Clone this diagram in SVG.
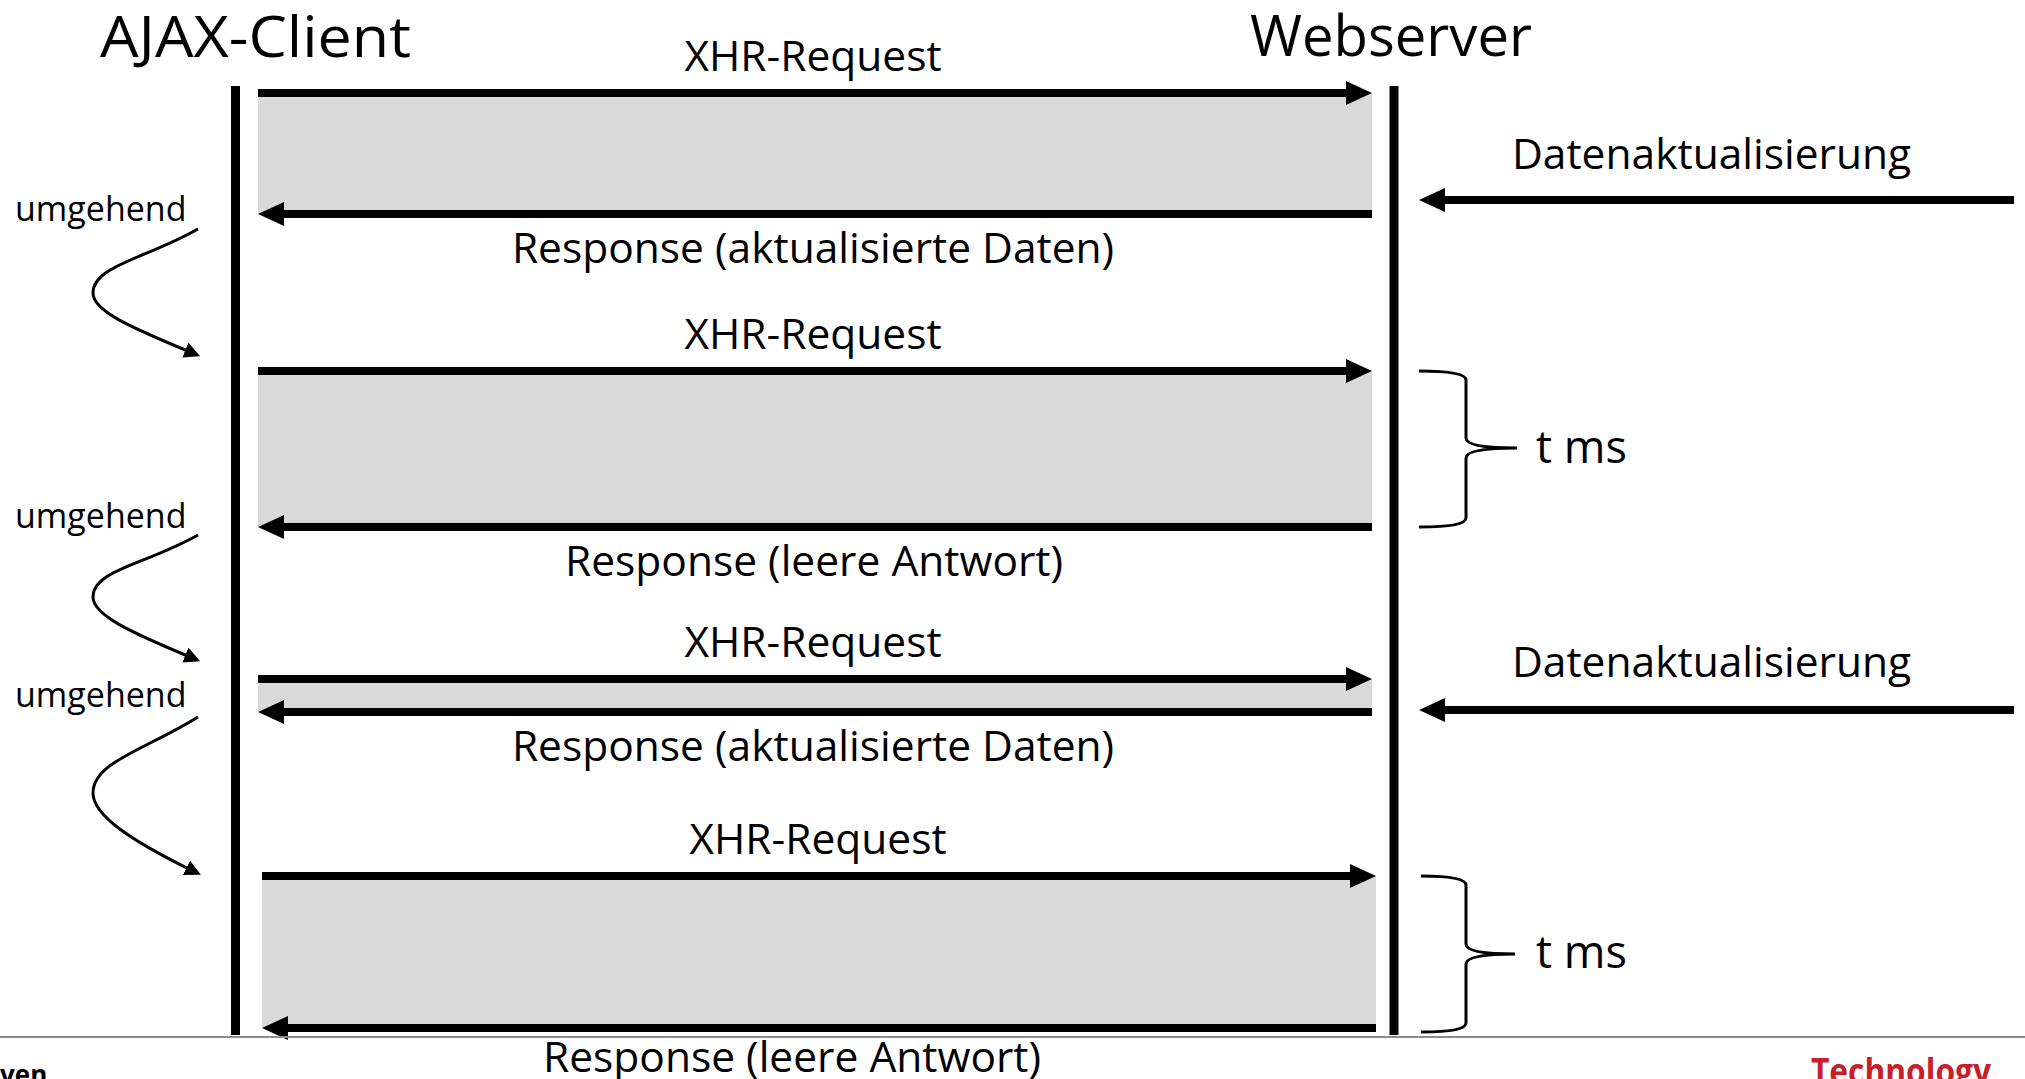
<svg xmlns="http://www.w3.org/2000/svg" width="2025" height="1079" viewBox="0 0 2025 1079">
  <style>
    .lbl { font-family: "Open Sans", "Noto Sans", "Liberation Sans", sans-serif; fill: #000; }
    .title { font-size: 57px; }
    .msg { font-size: 42.5px; }
    .wait { font-size: 45px; }
    .side { font-size: 34px; }
    .band { fill: #d9d9d9; }
    .life { stroke: #000; stroke-width: 9; }
    .msgline { stroke: #000; stroke-width: 8; fill: none; marker-end: url(#head); }
    .hop { stroke: #000; stroke-width: 3; fill: none; marker-end: url(#smallhead); }
    .brace { stroke: #000; stroke-width: 3; fill: none; }
    .foot { font-family: "Open Sans", "Liberation Sans", sans-serif; font-weight: bold; }
  </style>
  <defs>
    <marker id="head" viewBox="0 0 26 24" refX="6" refY="12" markerWidth="26" markerHeight="24" markerUnits="userSpaceOnUse" orient="auto">
      <path d="M0,0 L26,12 L0,24 z" fill="#000"/>
    </marker>
    <marker id="smallhead" viewBox="0 0 16 16" refX="5" refY="8" markerWidth="16" markerHeight="16" markerUnits="userSpaceOnUse" orient="auto">
      <path d="M0,0 L16,8 L0,16 z" fill="#000"/>
    </marker>
  </defs>

  <!-- request/response windows -->
  <g id="bands">
    <rect class="band" x="258" y="93" width="1114" height="121"/>
    <rect class="band" x="258" y="371" width="1114" height="156"/>
    <rect class="band" x="258" y="679" width="1114" height="33"/>
    <rect class="band" x="262" y="876" width="1114" height="152"/>
  </g>

  <!-- participants -->
  <g id="client">
    <text class="lbl title" x="100" y="57" textLength="311" lengthAdjust="spacingAndGlyphs">AJAX-Client</text>
    <line class="life" x1="235.5" y1="86" x2="235.5" y2="1035"/>
  </g>
  <g id="server">
    <text class="lbl title" x="1250" y="56" textLength="282" lengthAdjust="spacingAndGlyphs">Webserver</text>
    <line class="life" x1="1394" y1="86" x2="1394" y2="1035"/>
  </g>

  <!-- messages -->
  <g id="connectors">
    <line class="msgline" x1="258" y1="93" x2="1352" y2="93"/>
    <line class="msgline" x1="1372" y1="214" x2="278" y2="214"/>
    <line class="msgline" x1="258" y1="371" x2="1352" y2="371"/>
    <line class="msgline" x1="1372" y1="527" x2="278" y2="527"/>
    <line class="msgline" x1="258" y1="679" x2="1352" y2="679"/>
    <line class="msgline" x1="1372" y1="712" x2="278" y2="712"/>
    <line class="msgline" x1="262" y1="876" x2="1356" y2="876"/>
    <line class="msgline" x1="1376" y1="1028" x2="282" y2="1028"/>
    <line class="msgline" x1="2014" y1="200" x2="1439" y2="200"/>
    <line class="msgline" x1="2014" y1="710" x2="1439" y2="710"/>
    <path class="hop" d="M198,229 C145,259 93,266 93,293 C93,311 130,327 190,352"/>
    <path class="hop" d="M198,535 C145,565 93,570 93,597 C93,615 130,632 190,657"/>
    <path class="hop" d="M198,717 C145,750 93,762 93,793 C93,815 130,840 191,870"/>
  </g>

  <!-- message labels -->
  <g id="labels">
    <text class="lbl msg" x="813" y="71" text-anchor="middle">XHR-Request</text>
    <text class="lbl msg" x="813" y="263" text-anchor="middle">Response (aktualisierte Daten)</text>
    <text class="lbl msg" x="813" y="349" text-anchor="middle">XHR-Request</text>
    <text class="lbl msg" x="814" y="576" text-anchor="middle">Response (leere Antwort)</text>
    <text class="lbl msg" x="813" y="657" text-anchor="middle">XHR-Request</text>
    <text class="lbl msg" x="813" y="761" text-anchor="middle">Response (aktualisierte Daten)</text>
    <text class="lbl msg" x="818" y="854" text-anchor="middle">XHR-Request</text>
    <text class="lbl msg" x="792" y="1072" text-anchor="middle">Response (leere Antwort)</text>
    <text class="lbl msg" x="1512" y="169">Datenaktualisierung</text>
    <text class="lbl msg" x="1512" y="677">Datenaktualisierung</text>
  </g>

  <!-- immediate re-request notes -->
  <g id="notes">
    <text class="lbl side" x="15" y="221">umgehend</text>
    <text class="lbl side" x="15" y="528">umgehend</text>
    <text class="lbl side" x="15" y="707">umgehend</text>
  </g>

  <!-- hold time braces -->
  <g id="wait1">
    <path class="brace" d="M1419,371 C1445,371 1466,373 1466,380 L1466,438 C1466,446 1490,448 1517,448 C1490,448 1466,450 1466,458 L1466,518 C1466,525 1445,527 1419,527"/>
    <text class="lbl wait" x="1536" y="463">t ms</text>
  </g>
  <g id="wait2">
    <path class="brace" d="M1421,876 C1445,876 1466,878 1466,885 L1466,944 C1466,952 1490,954 1515,954 C1490,954 1466,956 1466,964 L1466,1023 C1466,1030 1445,1032 1421,1032"/>
    <text class="lbl wait" x="1536" y="968">t ms</text>
  </g>

  <!-- footer -->
  <g id="footer">
    <line x1="0" y1="1037" x2="2025" y2="1037" stroke="#8c8c8c" stroke-width="2"/>
    <text class="foot" x="0" y="1084" font-size="26" fill="#000">ven</text>
    <text class="foot" x="1811" y="1084" font-size="36" fill="#c8202a" textLength="180" lengthAdjust="spacingAndGlyphs">Technology</text>
  </g>
</svg>
